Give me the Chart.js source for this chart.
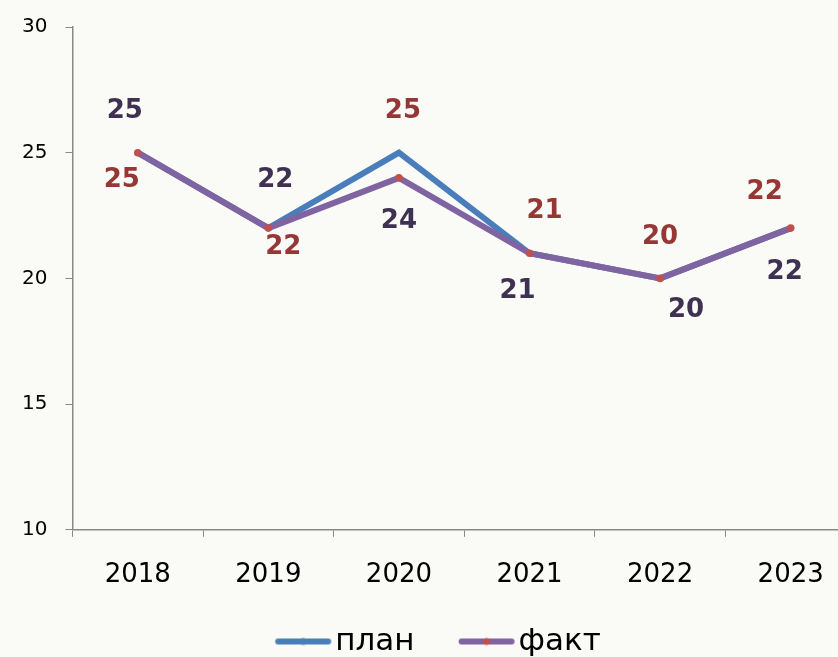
<!DOCTYPE html>
<html>
<head>
<meta charset="utf-8">
<script src="https://cdn.jsdelivr.net/npm/chart.js@4.4.1/dist/chart.umd.min.js"></script>
<style>
  html, body { margin: 0; padding: 0; background: #fafaf6; overflow: hidden; }
  #wrap { width: 876px; height: 667px; }
</style>
</head>
<body>
<div id="wrap"><canvas id="chart" width="876" height="667"></canvas></div>
<script>
// data
const years = ['2018', '2019', '2020', '2021', '2022', '2023'];
const planValues = [25, 22, 25, 21, 20, 22];
const factValues = [25, 22, 24, 21, 20, 22];
const yTicks = [10, 15, 20, 25, 30];

// where each value label sits relative to its point (px)
const planLabelShift = [[-16, 28], [15, 19], [4, -41], [15, -42], [0, -41], [-26, -36]];
const factLabelShift = [[-13, -41], [7, -48], [0, 43], [-12, 38], [26, 32], [-6, 44]];

const BLUE = '#4a7ebb';
const PURPLE = '#8064a2';
const DOT = '#c0504d';
const FONT = '"DejaVu Sans", Verdana, sans-serif';

// legend sample: thick line with a dot in the middle
// (image is wider than the line so the text sits close to it)
function legendSample(lineColor, dotColor) {
    const c = document.createElement('canvas');
    c.width = 108; c.height = 12;
    const g = c.getContext('2d');
    g.strokeStyle = lineColor;
    g.lineWidth = 6;
    g.lineCap = 'round';
    g.beginPath(); g.moveTo(50.75, 6); g.lineTo(100.75, 6); g.stroke();
    g.fillStyle = dotColor;
    g.beginPath(); g.arc(75.75, 6, 3.5, 0, Math.PI * 2); g.fill();
    return c;
}

const valueLabels = {
    id: 'valueLabels',
    afterDatasetsDraw(chart) {
        const ctx = chart.ctx;
        ctx.save();
        ctx.font = 'bold 26px ' + FONT;
        ctx.textAlign = 'center';
        ctx.textBaseline = 'middle';
        chart.data.datasets.forEach((ds, di) => {
            const meta = chart.getDatasetMeta(di);
            meta.data.forEach((pt, i) => {
                const s = ds.labelShift[i];
                ctx.fillStyle = ds.labelColor;
                ctx.fillText(ds.data[i], pt.x + s[0], pt.y + s[1]);
            });
        });
        ctx.restore();
    }
};

new Chart(document.getElementById('chart'), {
    type: 'line',
    data: {
        labels: years,
        datasets: [
            {
                label: 'план',
                data: planValues,
                borderColor: BLUE,
                backgroundColor: BLUE,
                borderWidth: 6,
                pointRadius: 0,
                tension: 0,
                order: 1,
                labelColor: '#953735',
                labelShift: planLabelShift
            },
            {
                label: 'факт',
                data: factValues,
                borderColor: PURPLE,
                backgroundColor: DOT,
                borderWidth: 6,
                pointRadius: 3.8,
                pointBorderWidth: 0,
                pointBackgroundColor: DOT,
                tension: 0,
                order: 0,
                labelColor: '#3f3151',
                labelShift: factLabelShift
            }
        ]
    },
    options: {
        responsive: false,
        animation: false,
        layout: { padding: { left: 4, right: 20, top: 0, bottom: 0 } },
        plugins: {
            tooltip: { enabled: false },
            legend: {
                position: 'bottom',
                labels: {
                    usePointStyle: true,
                    pointStyleWidth: 76.5,
                    padding: 12,
                    color: '#000',
                    font: { family: FONT, size: 31 },
                    generateLabels(chart) {
                        return chart.data.datasets.map((ds, i) => ({
                            // trailing spaces on the last item nudge the centred legend left
                            text: i === 1 ? ds.label + '\u00A0\u2009' : ds.label,
                            datasetIndex: i,
                            pointStyle: i === 0 ? legendSample(BLUE, BLUE) : legendSample(PURPLE, DOT),
                            fillStyle: ds.borderColor,
                            strokeStyle: ds.borderColor,
                            lineWidth: 0,
                            fontColor: '#000'
                        }));
                    }
                }
            }
        },
        scales: {
            x: {
                offset: true,
                grid: { drawOnChartArea: false, tickLength: 7, color: '#888', offset: true },
                border: { color: '#888', width: 1.5 },
                ticks: { color: '#000', padding: 23, font: { family: FONT, size: 26 } }
            },
            y: {
                min: 10,
                max: 30,
                afterBuildTicks(axis) { axis.ticks = yTicks.map(v => ({ value: v })); },
                grid: { drawOnChartArea: false, tickLength: 7, color: '#888' },
                border: { color: '#888', width: 1.5 },
                ticks: { color: '#000', padding: 18, font: { family: FONT, size: 20, lineHeight: 0.9 } }
            }
        }
    },
    plugins: [valueLabels]
});
</script>
</body>
</html>
